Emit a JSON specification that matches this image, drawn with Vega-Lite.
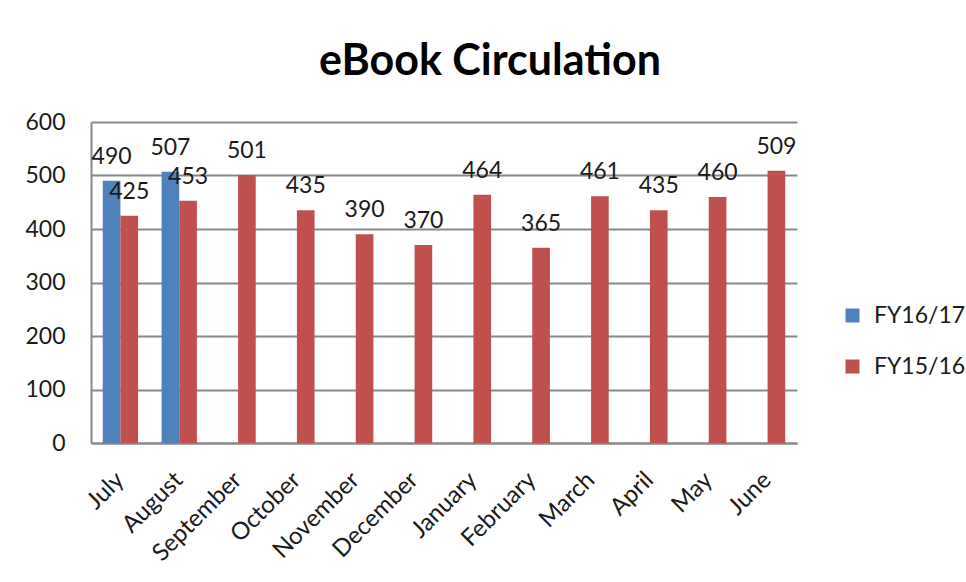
{
  "$schema": "https://vega.github.io/schema/vega-lite/v6.json",
  "autosize": "none",
  "width": 706,
  "height": 321,
  "padding": {"left": 91, "top": 122, "right": 169, "bottom": 139},
  "background": "white",
  "title": {
    "text": "eBook Circulation",
    "font": "Lato",
    "fontSize": 43,
    "fontWeight": "bold",
    "color": "#000000",
    "anchor": "middle",
    "dx": 46,
    "offset": 27
  },
  "data": {
    "values": [
      {"month": "July", "series": "FY16/17", "count": 490},
      {"month": "July", "series": "FY15/16", "count": 425},
      {"month": "August", "series": "FY16/17", "count": 507},
      {"month": "August", "series": "FY15/16", "count": 453},
      {"month": "September", "series": "FY15/16", "count": 501},
      {"month": "October", "series": "FY15/16", "count": 435},
      {"month": "November", "series": "FY15/16", "count": 390},
      {"month": "December", "series": "FY15/16", "count": 370},
      {"month": "January", "series": "FY15/16", "count": 464},
      {"month": "February", "series": "FY15/16", "count": 365},
      {"month": "March", "series": "FY15/16", "count": 461},
      {"month": "April", "series": "FY15/16", "count": 435},
      {"month": "May", "series": "FY15/16", "count": 460},
      {"month": "June", "series": "FY15/16", "count": 509}
    ]
  },
  "encoding": {
    "x": {
      "field": "month",
      "type": "nominal",
      "sort": ["July", "August", "September", "October", "November", "December", "January", "February", "March", "April", "May", "June"],
      "scale": {"paddingInner": 0.4, "paddingOuter": 0.2},
      "axis": {
        "title": null,
        "labelAngle": -45,
        "labelAlign": "right",
        "labelBaseline": "middle",
        "labelFont": "Lato",
        "labelFontSize": 24,
        "labelColor": "#1a1a1a",
        "labelPadding": 33,
        "ticks": false,
        "domainColor": "#888888",
        "domainWidth": 2,
        "grid": false
      }
    },
    "xOffset": {
      "field": "series",
      "type": "nominal",
      "scale": {"domain": ["FY16/17", "FY15/16"]}
    },
    "y": {
      "field": "count",
      "type": "quantitative",
      "scale": {"domain": [0, 600]},
      "axis": {
        "title": null,
        "values": [0, 100, 200, 300, 400, 500, 600],
        "labelFont": "Lato",
        "labelFontSize": 23,
        "labelColor": "#1a1a1a",
        "labelPadding": 26,
        "ticks": false,
        "domainColor": "#888888",
        "domainWidth": 2,
        "gridColor": "#888888",
        "gridWidth": 2
      }
    }
  },
  "layer": [
    {
      "mark": {"type": "bar"},
      "encoding": {
        "color": {
          "field": "series",
          "type": "nominal",
          "scale": {"domain": ["FY16/17", "FY15/16"], "range": ["#4F81BD", "#C0504D"]},
          "legend": {
            "title": null,
            "orient": "none",
            "legendX": 750,
            "legendY": 182,
            "symbolType": "square",
            "symbolSize": 196,
            "symbolStrokeWidth": 0,
            "labelFont": "Lato",
            "labelFontSize": 23,
            "labelColor": "#1a1a1a",
            "labelOffset": 10,
            "rowPadding": 27,
            "padding": 0
          }
        }
      }
    },
    {
      "mark": {
        "type": "text",
        "font": "Lato",
        "fontSize": 23,
        "color": "#1a1a1a",
        "baseline": "alphabetic",
        "dy": -17
      },
      "encoding": {
        "text": {"field": "count", "type": "quantitative"}
      }
    }
  ],
  "config": {
    "view": {"stroke": null}
  }
}
